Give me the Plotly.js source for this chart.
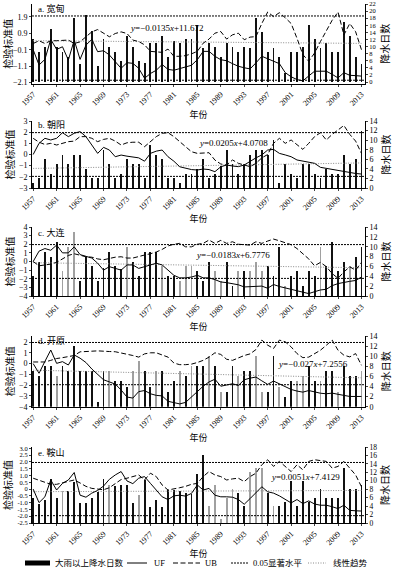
<!DOCTYPE html>
<html><head><meta charset="utf-8">
<script src="https://cdn.plot.ly/plotly-3.0.1.min.js"></script>
<style>html,body{margin:0;padding:0;background:#fff}</style>
</head><body><div id="chart" style="width:398px;height:571px"></div>
<script>
// ---------------- data ----------------
const years = [1957,1958,1959,1960,1961,1962,1963,1964,1965,1966,1967,1968,1969,1970,1971,1972,1973,1974,1975,1976,1977,1978,1979,1980,1981,1982,1983,1984,1985,1986,1987,1988,1989,1990,1991,1992,1993,1994,1995,1996,1997,1998,1999,2000,2001,2002,2003,2004,2005,2006,2007,2008,2009,2010,2011,2012,2013];
const xTickYears = [1957,1961,1965,1969,1973,1977,1981,1985,1989,1993,1997,2001,2005,2009,2013];

// a. 宽甸
const barsA = [12,8.5,10,15,10,8.5,7,18,5,19, 14.5,4.5,12,10,8.5,6,13,10,6,5.5, 11,11,13,7,11.5,11,12,12,16,9.5, 11,10,7,11,10,8.5,10,9.5,18,14, 8.5,9.5,7,2.5,8.5,8.5,10,16,12,9.5, 11,8.5,8.5,17,13,7,5];
const ufA = [-0.1,-1.03,-0.69,0.53,-0.08,0.08,-0.73,0.49,-0.69,0.18, 0.53,-0.22,-0.16,-0.42,-0.83,-1.23,-0.89,-0.93,-1.23,-1.84, -1.55,-1.35,-1.0,-1.3,-1.35,-1.25,-1.15,-1.05,-0.71,-0.2, -0.2,-0.5,-0.71,-0.77,-0.95,-1.11,-1.2,-1.27,-0.9,-0.5, -0.65,-0.8,-0.95,-1.5,-1.75,-1.92,-2.0,-1.7,-1.41,-1.41, -1.41,-1.6,-1.82,-1.5,-1.66,-1.68,-1.71];
const ubA = [0.28,0.45,0.28,0.45,0.45,0.45,0.49,0.28,0.38,0.69, 0.99,1.13,0.89,0.69,0.89,0.99,0.89,0.49,0.4,0.2, -0.2,-0.25,-0.26,-0.06,-0.5,-0.5,-0.46,-0.35,-0.2,0.3, 0.55,0.91,1.01,0.55,0.81,0.91,0.51,0.67,0.7,1.5, 2.2,1.92,2.16,1.85,1.5,0.6,-0.4,-0.8,-0.3,0.4, 1.1,1.7,2.2,0.8,1.5,1.0,-0.1];
const trendA = [-0.0135, 11.672];

// b. 朝阳
const barsB = [1,2,6,3,5,7,5,7,7,4, 2,2,8,5,2,3,6,5,5,2, 9,7,6,2,2,1,3,3,4,6, 2,3,4.5,8,5,3,5,7,8,8, 7,10,1,5,3,2,5,5,3,2, 4,3,3,7,5,6,12];
const ufB = [0,1.0,1.45,1.3,1.45,1.95,1.6,1.9,2.05,1.6, 0.85,0.1,0.64,0.4,-0.2,-0.05,-0.15,-0.2,-0.3,-0.6, 0.1,0.3,0.4,-0.2,-0.6,-1.1,-1.25,-1.35,-1.39,-1.3, -1.35,-1.54,-1.1,-0.94,-1.03,-1.09,-0.94,-0.6,-0.3,-0.04, 0.4,0.46,0.1,-0.04,-0.2,-0.49,-0.6,-0.7,-0.79,-1.15, -1.25,-1.33,-1.45,-1.5,-1.6,-1.7,-1.75];
const ubB = [1.45,1.1,0.9,1.0,0.85,1.0,1.15,1.2,1.6,1.6, 1.45,1.15,1.35,1.45,1.2,0.85,1.05,1.1,1.1,0.7, 1.15,1.6,1.9,1.95,1.6,1.15,0.7,0.25,0.1,0.15, 0.16,-0.5,-0.85,-0.94,-0.49,-0.79,-0.95,-1.09,-0.79,-0.3, 0.0,1.0,1.45,1.0,1.3,0.9,0.46,1.0,1.6,1.95, 1.3,1.8,2.2,2.6,1.8,1.2,0.1];
const trendB = [0.0205, 4.0708];

// c. 大连
const barsC = [4,7,9,8,11,5,10,13,3,8, 6,3,5.7,9,6,5.5,10,7,4,9, 9,9,6,4,4,3,6,6,5,3, 7,5,3,7,2,5,5,5,7,5, 6,4,10,2,4,5,2,5,4,10, 6,11,5,7,6,8,10];
const ufC = [0,1.2,1.5,1.3,1.9,1.0,1.0,1.7,0.8,0.6, 0.4,-0.2,-1.0,-0.6,-0.8,-1.0,-0.4,-0.4,-0.8,-0.6, -0.4,-0.2,-0.4,-1.0,-1.6,-1.9,-1.9,-1.8,-1.6,-1.9, -1.9,-2.1,-2.37,-2.45,-2.56,-2.7,-2.95,-2.9,-2.85,-2.85, -3.1,-2.67,-2.9,-3.05,-3.2,-3.4,-3.55,-3.72,-3.5,-3.3, -3.22,-2.8,-2.56,-2.4,-2.3,-2.2,-1.8];
const ubC = [0,-0.5,-0.4,-0.3,-0.1,0.3,0.7,0.9,0.7,0.55, 0.5,0.3,0.2,0.35,0.5,0.55,0.4,0.4,0.6,0.75, 0.9,1.1,1.4,1.8,2.0,2.1,1.7,1.7,2.0,2.1, 2.49,2.1,2.45,2.1,2.29,2.0,1.95,1.9,2.29,2.1, 2.37,2.6,2.4,2.2,1.95,1.5,0.9,0.3,-0.5,-0.1, -0.6,-1.4,-1.95,-1.2,-0.62,-1.0,-0.1];
const trendC = [-0.0183, 6.7776];
const grayYearsC = [1962,1963,1964,1973,1979,1982,1983,1984,1988,1989,1992,1994,1995,1996,2000,2006,2011];

// d. 开原
const barsD = [7,6,8,8,6,8,7,12,7,7, 7,1,7,7,5,5,4,7,9,7, 4,7,7,3,5,7,6,8,8,8, 10,8,3,3,8,6,7,7,10,3, 3,10,4,2,5,5,6,8,5,5, 7,7,3,8,6,6,7];
const ufD = [0,-0.9,0.2,1.26,0.02,0.18,-0.13,0.8,0.5,0.1, -0.5,-1.0,-1.5,-1.7,-1.9,-2.45,-3.1,-3.2,-2.6,-2.5, -2.8,-2.95,-3.0,-3.5,-3.65,-3.74,-3.6,-3.1,-2.6,-2.1, -1.7,-1.45,-2.1,-2.0,-1.87,-2.03,-1.5,-1.35,-1.25,-1.6, -1.93,-1.62,-1.9,-2.18,-2.4,-2.55,-2.65,-2.5,-2.65,-2.75, -2.8,-2.74,-2.85,-2.95,-3.05,-3.05,-3.05];
const ubD = [0.15,0.15,0.15,0.3,0.47,0.55,0.62,0.75,1.09,1.15, 1.15,1.18,1.18,1.12,1.1,1.0,0.9,0.75,0.6,0.9, 1.0,1.0,0.8,0.6,0.05,-0.1,-0.1,-0.05,0.1,0.3, 0.6,1.0,0.85,0.4,0.3,0.55,0.75,0.9,1.3,2.18, 1.71,1.4,2.18,2.02,1.55,0.93,0.55,0.6,0.93,1.24, 1.7,2.18,1.24,0.78,0.62,0.93,-0.16];
const trendD = [-0.027, 7.2556];
const grayYearsD = [1961,1970,1974,1975,1978,1982,1984,1987,1989,1992,1995,1996,1999,2002,2003,2006,2009,2013];

// e. 鞍山
const barsE = [6,4.5,5.4,10.5,6,7.6,7.6,9.7,4.7,4.7, 6,7.3,10.5,8.9,8.7,8.9,8.9,4.7,6.6,10.3, 3.8,5.5,3.8,7.7,7.9,7.6,7,6.9,11.7,16, 4,9,1,6,8,7,4,12,13,13, 7,4,4,5,10,4,10,5,6,8, 6,6,6,13,8,8,9];
const ufE = [0,-1.0,-0.57,0.67,-0.07,0.42,0.67,1.22,-0.45,-0.6, -0.3,-0.1,0.22,0.72,1.04,1.29,0.6,0.4,0.8,0.92, 0.42,-0.07,-0.57,-0.77,-0.5,-0.45,-0.52,-0.32,0.3,-0.07, 0.05,-0.45,-0.57,-0.57,-0.6,-0.77,-1.12,-0.7,-0.25,0.17, -0.2,-0.3,-0.5,-0.77,-1.02,-0.77,-1.07,-0.87,-1.1,-1.19, -1.19,-1.3,-1.44,-1.19,-1.57,-1.6,-1.62];
const ubE = [0.8,0.65,0.55,0.35,0.35,0.45,0.55,0.67,0.45,0.2, 0.05,-0.02,-0.05,0.1,0.4,0.7,0.8,0.9,1.04,0.67, 1.17,0.92,0.3,-0.07,0.0,0.1,0.2,0.35,0.42,0.92, 1.29,1.04,0.92,0.67,0.75,0.8,0.55,0.92,1.17,1.79, 2.16,1.67,2.04,1.67,1.29,1.79,1.42,2.04,2.16,2.1, 2.04,1.54,1.67,2.04,1.54,1.04,0.17];
const trendE = [0.0051, 7.4129];
const grayYearsE = [1962,1970,1975,1987,1988,1989,1990,1991,1994,1995,1996,1998];
const eTickVals = [-2.5,-2,-1.5,-1,-0.5,0,0.5,1,1.5,2,2.5,3];
const eTickText = ['-2.5','-2.0','-1.5','-1.0','-0.5','0','0.5','1.0','1.5','2.0','2.5','3.0'];

const sig = 1.96; // 0.05 显著水平

// ---------------- layout helpers ----------------
const W = 398, H = 571, ML = 32, MR = 33;
const PW = W - ML - MR;
const pxX = px => (px - ML) / PW;
const pxY = py => 1 - py / H;
const FONT = "'Liberation Serif', 'Noto Sans CJK SC', serif";
const CJK = "'Noto Sans CJK SC', 'Liberation Serif', sans-serif";

const panels = [
  {label:'a. 宽甸', bars:barsA, uf:ufA, ub:ubA, trend:trendA, gray:[], eq:'<i>y</i>=−0.0135<i>x</i>+11.672',
   top:4, bottom:83.5, left:[-2.16,2.69], lt:{tick0:-2.1,dtick:1}, ltf:8, right:[-0.4,22], rdt:2, rtf:6.5, eqPos:[166,28], labY:8},
  {label:'b. 朝阳', bars:barsB, uf:ufB, ub:ubB, trend:trendB, gray:[], eq:'<i>y</i>=0.0205<i>x</i>+4.0708',
   top:121, bottom:188, left:[-3,3], lt:{tick0:-3,dtick:1}, ltf:8, right:[0,14], rdt:2, rtf:8, eqPos:[233,143], labY:125},
  {label:'c. 大连', bars:barsC, uf:ufC, ub:ubC, trend:trendC, gray:grayYearsC, eq:'<i>y</i>=−0.0183<i>x</i>+6.7776',
   top:227, bottom:296, left:[-4,4], lt:{tick0:-4,dtick:1}, ltf:8, right:[0,14], rdt:2, rtf:8, eqPos:[233,255], labY:232},
  {label:'d. 开原', bars:barsD, uf:ufD, ub:ubD, trend:trendD, gray:grayYearsD, eq:'<i>y</i>=−0.027<i>x</i>+7.2556',
   top:336, bottom:406.7, left:[-4,2.56], lt:{tick0:-4,dtick:1}, ltf:8, right:[0,14], rdt:2, rtf:8, eqPos:[313,364], labY:341},
  {label:'e. 鞍山', bars:barsE, uf:ufE, ub:ubE, trend:trendE, gray:grayYearsE, eq:'<i>y</i>=0.0051<i>x</i>+7.4129',
   top:447, bottom:523, left:[-2.5,3.1], lt:{tickvals:eTickVals, ticktext:eTickText}, ltf:6.5, right:[0,18], rdt:2, rtf:7.5, eqPos:[305,477], labY:452}
];

const traces = [];
const layout = {
  width: W, height: H,
  margin: {l: ML, r: MR, t: 0, b: 0},
  paper_bgcolor: '#fff', plot_bgcolor: 'rgba(0,0,0,0)',
  showlegend: false, font: {family: FONT, size: 8, color: '#000'},
  bargap: 0, shapes: [], annotations: []
};

panels.forEach((p, i) => {
  const k = i + 1;
  const xs = k === 1 ? '' : String(k);
  const yR = 2 * k - 1, yL = 2 * k;           // base axis = right (bars), overlay = left (UF/UB)
  const yRn = yR === 1 ? '' : String(yR);
  const xRef = 'x' + xs, yRref = 'y' + yRn, yLref = 'y' + yL;
  const dom = [pxY(p.bottom), pxY(p.top)];
  const colors = years.map(y => p.gray.includes(y) ? '#a0a0a0' : '#111');

  traces.push({type: 'bar', x: years, y: p.bars, xaxis: xRef, yaxis: yRref, width: 0.32,
               marker: {color: colors, line: {width: 0}}, name: '大雨以上降水日数'});
  const n = years.length;
  traces.push({type: 'scatter', mode: 'lines', x: [years[0], years[n - 1]],
               y: [p.trend[0] * 1 + p.trend[1], p.trend[0] * n + p.trend[1]],
               xaxis: xRef, yaxis: yRref, line: {color: '#8a8a8a', width: 1, dash: '1px,1.5px'}, name: '线性趋势'});
  traces.push({type: 'scatter', mode: 'lines', x: years, y: p.uf, xaxis: xRef, yaxis: yLref,
               line: {color: '#000', width: 1}, name: 'UF'});
  traces.push({type: 'scatter', mode: 'lines', x: years, y: p.ub, xaxis: xRef, yaxis: yLref,
               line: {color: '#000', width: 1, dash: '5px,2.5px'}, name: 'UB'});

  layout['xaxis' + xs] = {
    domain: [0, 1], range: [1956.8, 2013.6], anchor: yRref, tickmode: 'array', tickvals: xTickYears,
    tickangle: -45, tickfont: {size: 8, family: FONT}, showline: true, linecolor: '#000', linewidth: 1,
    ticks: 'outside', ticklen: 2, showgrid: false, zeroline: false,
    title: {text: '年份', font: {size: 9, family: CJK}, standoff: 3}
  };
  layout['yaxis' + yRn] = {
    domain: dom, range: p.right, anchor: xRef, side: 'right', dtick: p.rdt, tick0: 0,
    showline: true, linecolor: '#000', linewidth: 1, ticks: 'outside', ticklen: 2,
    showgrid: false, zeroline: false, tickfont: {size: p.rtf, family: FONT},
    title: {text: '降水日数', font: {size: 10, family: CJK}, standoff: 2}
  };
  layout['yaxis' + yL] = Object.assign({
    overlaying: yRref, range: p.left, anchor: xRef, side: 'left',
    showline: true, linecolor: '#000', linewidth: 1, ticks: 'outside', ticklen: 2,
    showgrid: false, zeroline: false, tickfont: {size: p.ltf, family: FONT},
    title: {text: '检验标准值', font: {size: 10, family: CJK}, standoff: 2}
  }, p.lt.tickvals ? {tickmode: 'array', tickvals: p.lt.tickvals, ticktext: p.lt.ticktext}
                   : {tickmode: 'linear', tick0: p.lt.tick0, dtick: p.lt.dtick});

  [sig, -sig].forEach(v => layout.shapes.push({
    type: 'line', xref: xRef + ' domain', x0: 0, x1: 1, yref: yLref, y0: v, y1: v,
    line: {color: '#000', width: 1, dash: '2px,1px'}
  }));

  layout.annotations.push({text: p.label, xref: 'paper', yref: 'paper', x: pxX(36), y: pxY(p.labY),
    xanchor: 'left', yanchor: 'middle', showarrow: false, font: {size: 9, family: FONT}});
  layout.annotations.push({text: p.eq, xref: 'paper', yref: 'paper', x: pxX(p.eqPos[0]), y: pxY(p.eqPos[1]),
    xanchor: 'center', yanchor: 'middle', showarrow: false, font: {size: 9, family: FONT}});
});

// ---------------- legend (drawn) ----------------
const LY = 563;
const leg = layout.shapes, ann = layout.annotations;
leg.push({type: 'rect', xref: 'paper', yref: 'paper', x0: pxX(25), x1: pxX(50), y0: pxY(565.5), y1: pxY(560.5),
          fillcolor: '#000', line: {width: 0}});
leg.push({type: 'line', xref: 'paper', yref: 'paper', x0: pxX(127), x1: pxX(147), y0: pxY(LY), y1: pxY(LY),
          line: {color: '#000', width: 1}});
leg.push({type: 'line', xref: 'paper', yref: 'paper', x0: pxX(173), x1: pxX(200), y0: pxY(LY), y1: pxY(LY),
          line: {color: '#000', width: 1, dash: '5px,2.5px'}});
leg.push({type: 'line', xref: 'paper', yref: 'paper', x0: pxX(231), x1: pxX(248), y0: pxY(LY), y1: pxY(LY),
          line: {color: '#000', width: 1, dash: '2px,1px'}});
leg.push({type: 'line', xref: 'paper', yref: 'paper', x0: pxX(308), x1: pxX(326), y0: pxY(LY), y1: pxY(LY),
          line: {color: '#8a8a8a', width: 1, dash: '1px,1.5px'}});
[['大雨以上降水日数', 53], ['UF', 152], ['UB', 203], ['0.05显著水平', 251], ['线性趋势', 331]].forEach(([t, x]) =>
  ann.push({text: t, xref: 'paper', yref: 'paper', x: pxX(x), y: pxY(LY), xanchor: 'left', yanchor: 'middle',
            showarrow: false, font: {size: 8.5, family: FONT}}));

Plotly.newPlot('chart', traces, layout, {displayModeBar: false, staticPlot: true});
</script>
</body></html>
